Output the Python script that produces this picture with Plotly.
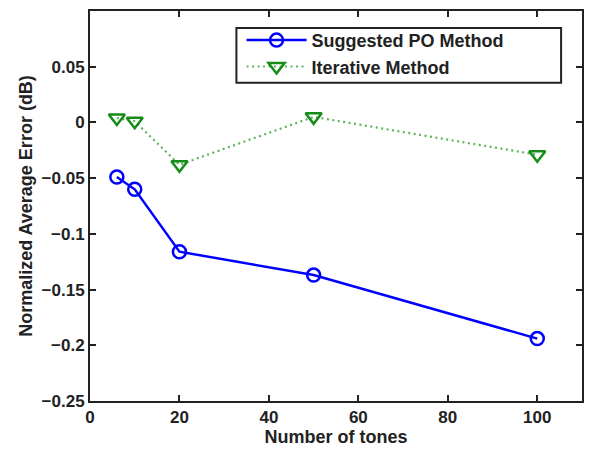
import plotly.graph_objects as go

tones = [6, 10, 20, 50, 100]
po_method = [-0.049, -0.060, -0.116, -0.137, -0.194]
iterative = [0.004, 0.001, -0.038, 0.005, -0.029]

FONT = "Liberation Sans"
INK = "#222222"

fig = go.Figure()
fig.add_trace(go.Scatter(
    x=tones, y=po_method, mode="lines+markers", name="<b>Suggested PO Method</b>",
    line=dict(color="#0000ff", width=2.5),
    marker=dict(symbol="circle-open", size=13, color="#0000ff", line=dict(width=2.5)),
))
fig.add_trace(go.Scatter(
    x=tones, y=iterative, mode="lines+markers", name="<b>Iterative Method</b>",
    line=dict(color="#5cb45c", width=2.2, dash="2px,3.5px"),
    marker=dict(symbol="triangle-down-open", size=14, color="#168c16", line=dict(width=2.5)),
))

axis_common = dict(
    showline=True, linecolor=INK, linewidth=2, mirror="allticks",
    ticks="inside", ticklen=6, tickwidth=2, tickcolor=INK,
    showgrid=False, zeroline=False,
    tickfont=dict(family=FONT, size=17, color=INK),
)

# legend frame (paper coords relative to plot area)
fig.add_shape(type="rect", xref="paper", yref="paper",
              x0=0.2976, x1=0.9575, y0=0.816, y1=0.9565,
              line=dict(color=INK, width=2), fillcolor="white", layer="below")

fig.update_layout(
    width=590, height=450,
    margin=dict(l=90, r=6, t=11, b=48),
    paper_bgcolor="white", plot_bgcolor="white",
    font=dict(family=FONT, color=INK),
    showlegend=True,
    legend=dict(
        x=0.308, y=0.972, xanchor="left", yanchor="top",
        bgcolor="rgba(0,0,0,0)", borderwidth=0,
        font=dict(family=FONT, size=18, color=INK),
        tracegroupgap=0, itemwidth=60,
    ),
)
fig.update_xaxes(
    range=[0, 110], tickvals=[0, 20, 40, 60, 80, 100],
    ticktext=["<b>0</b>", "<b>20</b>", "<b>40</b>", "<b>60</b>", "<b>80</b>", "<b>100</b>"],
    title=dict(text="<b>Number of tones</b>", font=dict(family=FONT, size=18, color=INK), standoff=4),
    **axis_common,
)
ytv = [-0.25, -0.2, -0.15, -0.1, -0.05, 0, 0.05]
ytt = ["<b>\u22120.25</b>", "<b>\u22120.2</b>", "<b>\u22120.15</b>", "<b>\u22120.1</b>", "<b>\u22120.05</b>", "<b>0</b>", "<b>0.05</b>"]
fig.update_yaxes(
    range=[-0.25, 0.1], tickvals=ytv, ticktext=ytt,
    title=dict(text="<b>Normalized Average Error (dB)</b>", font=dict(family=FONT, size=18, color=INK), standoff=4),
    **axis_common,
)

fig.write_html("out.html")
